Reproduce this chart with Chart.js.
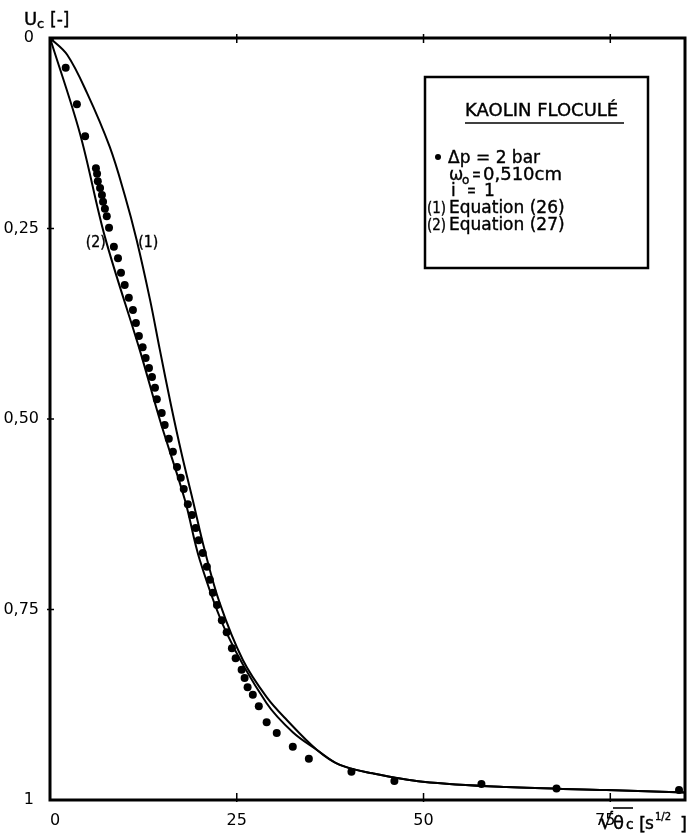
<!DOCTYPE html>
<html>
<head>
<meta charset="utf-8">
<script src="https://cdn.jsdelivr.net/npm/chart.js@4"></script>
<style>
  body { margin: 0; background: #fff; }
  canvas { display: block; }
</style>
</head>
<body>
<canvas id="kaolin" width="693" height="839"></canvas>
<script>
// measured points (Δp = 2 bar)
const measuredX = [0, 2.1, 3.6, 4.7, 6.15, 6.3, 6.4, 6.7, 6.95, 7.1, 7.35, 7.6, 7.9, 8.55, 9.1, 9.5, 10.0, 10.55, 11.1, 11.5,
    11.9, 12.4, 12.8, 13.25, 13.65, 14.05, 14.3, 14.95, 15.35, 15.9, 16.45, 17.0, 17.5, 17.9, 18.45, 19.0, 19.5, 19.9, 20.45, 21.0,
    21.4, 21.8, 22.35, 23.0, 23.65, 24.35, 24.85, 25.65, 26.05, 26.45, 27.15, 27.95, 29.0, 30.35, 32.5, 34.65, 40.35, 46.1, 57.75, 67.8, 84.2];
const measuredU = [0, 0.039, 0.087, 0.129, 0.171, 0.178, 0.188, 0.197, 0.206, 0.215, 0.224, 0.234, 0.249, 0.274, 0.289, 0.308, 0.324, 0.341, 0.357, 0.374,
    0.391, 0.406, 0.420, 0.433, 0.445, 0.459, 0.474, 0.492, 0.508, 0.526, 0.543, 0.563, 0.577, 0.592, 0.612, 0.626, 0.643, 0.659, 0.676, 0.694,
    0.711, 0.728, 0.744, 0.764, 0.780, 0.801, 0.814, 0.829, 0.840, 0.852, 0.862, 0.877, 0.898, 0.912, 0.930, 0.946, 0.963, 0.975, 0.979, 0.985, 0.987];

// (1) Equation (26)
const eq26X = [0, 2.3, 4.95, 8.0, 10.0, 11.6, 13.4, 14.7, 16.2, 17.65, 19.1, 20.7, 22.7, 25.8, 29.0, 31.7, 35.7, 38.8, 43.2, 49.9, 61.1, 74.5, 85];
const eq26U = [0, 0.022, 0.072, 0.143, 0.206, 0.265, 0.344, 0.409, 0.482, 0.547, 0.606, 0.672, 0.741, 0.816, 0.865, 0.895, 0.934, 0.954, 0.965, 0.976, 0.983, 0.987, 0.990];

// (2) Equation (27)
const eq27X = [0, 4.0, 7.35, 12.0, 14.7, 18.05, 20.05, 23.65, 29.0, 32.5, 35.7, 38.8, 43.2, 49.9, 61.1, 74.5, 85];
const eq27U = [0, 0.125, 0.261, 0.409, 0.501, 0.606, 0.685, 0.781, 0.873, 0.911, 0.934, 0.954, 0.965, 0.976, 0.983, 0.987, 0.990];

// axis ticks
const xTickValues = [0, 25, 50, 75];
const xTickLabels = ['0', '25', '50', '75'];
const yTickValues = [0, 0.25, 0.5, 0.75, 1];
const yTickLabels = ['0', '0,25', '0,50', '0,75', '1'];

const FONT = "'DejaVu Sans', 'Liberation Sans', sans-serif";

const toPoints = (xs, ys) => xs.map((v, i) => ({ x: v, y: ys[i] }));

// frame, tick crosses, titles and the legend box
const decorPlugin = {
    id: 'decor',
    afterDraw(chart) {
        const { ctx, chartArea: a, scales: { x, y } } = chart;
        const line = (x1, y1, x2, y2) => {
            ctx.beginPath(); ctx.moveTo(x1, y1); ctx.lineTo(x2, y2); ctx.stroke();
        };
        // slightly heavier text, like the scanned original
        const text = (s, px, py, size, maxW) => {
            ctx.font = `${size}px ${FONT}`;
            ctx.lineWidth = 0.4;
            if (maxW) {
                ctx.fillText(s, px, py, maxW);
                ctx.strokeText(s, px, py, maxW);
            } else {
                ctx.fillText(s, px, py);
                ctx.strokeText(s, px, py);
            }
        };
        ctx.save();
        ctx.strokeStyle = '#000';
        ctx.fillStyle = '#000';
        ctx.textBaseline = 'alphabetic';

        ctx.lineWidth = 3;
        ctx.strokeRect(a.left, a.top, a.right - a.left, a.bottom - a.top);

        ctx.lineWidth = 1.5;
        xTickValues.slice(1).forEach(v => {
            const px = x.getPixelForValue(v);
            line(px, a.top - 4, px, a.top + 5);
            line(px, a.bottom - 7, px, a.bottom + 2);
        });
        yTickValues.slice(1, -1).forEach(v => {
            const py = y.getPixelForValue(v);
            line(a.left - 3, py, a.left + 4, py);
        });

        // curve labels
        text('(2)', x.getPixelForValue(4.8), y.getPixelForValue(0.274), 16, 20);
        text('(1)', x.getPixelForValue(11.8), y.getPixelForValue(0.274), 16, 20);

        // y title  U_c [-]
        text('U', 24, 25, 18);
        text('c', 37, 28, 13);
        text('[-]', 50, 25, 17);

        // x title  √θc [s^1/2]
        text('√', 599, 829, 22);
        text('θ', 613, 829, 18);
        text('c', 626, 829, 14);
        text('[', 639, 830, 18);
        text('s', 645, 829, 17);
        text('1/2', 655, 820, 10);
        text(']', 680, 830, 18);
        ctx.lineWidth = 1.6;
        line(613, 808, 633, 808);

        // legend box
        ctx.lineWidth = 2.5;
        ctx.strokeRect(425, 77, 223, 191);
        text('KAOLIN FLOCULÉ', 465, 116, 18, 158);
        ctx.lineWidth = 1.5;
        line(465, 123, 624, 123);

        ctx.beginPath(); ctx.arc(438, 157, 3, 0, Math.PI * 2); ctx.fill();
        text('Δp', 448, 163, 17);
        text('= 2 bar', 476, 163, 17);
        text('ω', 449, 180, 17);
        text('o', 462, 184, 12);
        text('=', 472, 180, 17, 9);
        text('0,510cm', 483, 180, 18);
        text('i', 451, 196, 17);
        text('=', 467, 196, 17, 9);
        text('1', 484, 196, 17);
        text('(1)', 427, 213, 16, 19);
        text('Equation (26)', 449, 213, 17);
        text('(2)', 427, 230, 16, 19);
        text('Equation (27)', 449, 230, 17);

        ctx.restore();
    }
};

const config = {
    type: 'scatter',
    data: {
        datasets: [
            {
                label: 'Δp = 2 bar',
                data: toPoints(measuredX, measuredU),
                pointRadius: 4,
                pointBackgroundColor: '#000',
                pointBorderWidth: 0,
                showLine: false,
            },
            {
                label: '(1) Equation (26)',
                data: toPoints(eq26X, eq26U),
                showLine: true,
                borderColor: '#000',
                borderWidth: 2,
                pointRadius: 0,
                tension: 0.35,
            },
            {
                label: '(2) Equation (27)',
                data: toPoints(eq27X, eq27U),
                showLine: true,
                borderColor: '#000',
                borderWidth: 2,
                pointRadius: 0,
                tension: 0.35,
            }
        ]
    },
    options: {
        responsive: false,
        animation: false,
        layout: { padding: { left: 0, right: 8, top: 38, bottom: 0 } },
        scales: {
            x: {
                type: 'linear',
                min: 0,
                max: 85,
                afterBuildTicks: s => { s.ticks = xTickValues.map(v => ({ value: v })); },
                afterFit: s => { s.height = 39; },
                grid: { display: false },
                border: { display: false },
                ticks: {
                    color: '#000',
                    padding: 3,
                    maxRotation: 0,
                    font: { family: FONT, size: 16 },
                    callback: v => {
                        const lbl = xTickLabels[xTickValues.indexOf(v)];
                        if (v === 0) return '  ' + lbl;
                        if (v === 75) return lbl + '  ';
                        return lbl;
                    }
                }
            },
            y: {
                type: 'linear',
                min: 0,
                max: 1,
                reverse: true,
                afterBuildTicks: s => { s.ticks = yTickValues.map(v => ({ value: v })); },
                afterFit: s => { s.width = 50; },
                grid: { display: false },
                border: { display: false },
                ticks: {
                    color: '#000',
                    padding: 3,
                    font: { family: FONT, size: 16 },
                    callback: v => {
                        const lbl = yTickLabels[yTickValues.indexOf(v)];
                        return (v === 0 || v === 1) ? lbl + ' ' : lbl;
                    }
                }
            }
        },
        plugins: {
            legend: { display: false },
            tooltip: { enabled: false }
        }
    },
    plugins: [decorPlugin]
};

new Chart(document.getElementById('kaolin').getContext('2d'), config);
</script>
</body>
</html>
